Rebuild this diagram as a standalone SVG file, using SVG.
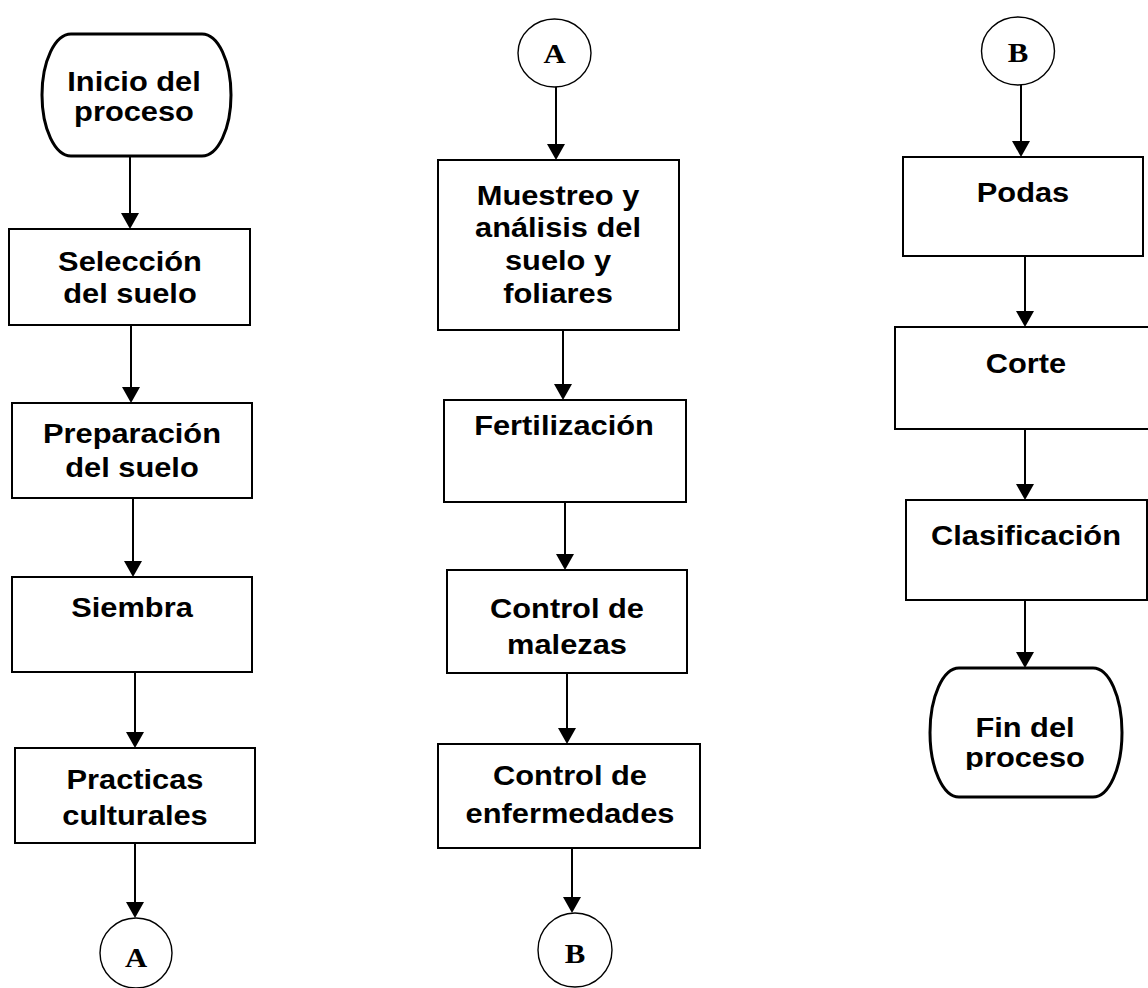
<svg xmlns="http://www.w3.org/2000/svg" width="1148" height="988" viewBox="0 0 1148 988">
<style>
.box{fill:#fff;stroke:#000;stroke-width:2}
.term{fill:#fff;stroke:#000;stroke-width:3}
.circ{fill:#fff;stroke:#000;stroke-width:1.4}
.t{font-family:"Liberation Sans",Arial,sans-serif;font-weight:bold;font-size:28px;fill:#000;text-anchor:middle}
.c{font-family:"Liberation Serif","Times New Roman",serif;font-weight:bold;font-size:28px;fill:#000;text-anchor:middle}
.ln{stroke:#000;stroke-width:2;fill:none;marker-end:url(#ah)}
</style>
<defs>
<marker id="ah" markerUnits="userSpaceOnUse" viewBox="0 0 16 18" markerWidth="16" markerHeight="18" refX="1" refY="9" orient="auto">
<path d="M0,0 L16,9 L0,18 z" fill="#000"/>
</marker>
<clipPath id="finclip"><rect x="930" y="668" width="192" height="102"/></clipPath>
</defs>
<rect width="1148" height="988" fill="#fff"/>
<g id="connectors">
<line class="ln" x1="130" y1="156" x2="130" y2="214"/>
<line class="ln" x1="131" y1="325" x2="131" y2="388"/>
<line class="ln" x1="133" y1="498" x2="133" y2="562"/>
<line class="ln" x1="135" y1="672" x2="135" y2="733"/>
<line class="ln" x1="135" y1="843" x2="135" y2="903"/>
<line class="ln" x1="556" y1="87" x2="556" y2="145"/>
<line class="ln" x1="563" y1="330" x2="563" y2="385"/>
<line class="ln" x1="565" y1="502" x2="565" y2="555"/>
<line class="ln" x1="567" y1="673" x2="567" y2="729"/>
<line class="ln" x1="572" y1="848" x2="572" y2="898"/>
<line class="ln" x1="1021" y1="85" x2="1021" y2="142"/>
<line class="ln" x1="1025" y1="256" x2="1025" y2="312"/>
<line class="ln" x1="1025" y1="429" x2="1025" y2="485"/>
<line class="ln" x1="1025" y1="600" x2="1025" y2="653"/>
</g>
<g id="inicio">
<rect class="term" x="42" y="34" width="189" height="122" rx="29" ry="61"/>
<text class="t" transform="translate(134,0) scale(1.1,1)"><tspan x="0" y="91">Inicio del</tspan><tspan x="0" y="121">proceso</tspan></text>
</g>
<g id="seleccion">
<rect class="box" x="9" y="229" width="241" height="96"/>
<text class="t" transform="translate(130,0) scale(1.1,1)"><tspan x="0" y="271">Selección</tspan><tspan x="0" y="303">del suelo</tspan></text>
</g>
<g id="preparacion">
<rect class="box" x="12" y="403" width="240" height="95"/>
<text class="t" transform="translate(132,0) scale(1.1,1)"><tspan x="0" y="443">Preparación</tspan><tspan x="0" y="477">del suelo</tspan></text>
</g>
<g id="siembra">
<rect class="box" x="12" y="577" width="240" height="95"/>
<text class="t" transform="translate(132,0) scale(1.1,1)"><tspan x="0" y="617">Siembra</tspan></text>
</g>
<g id="practicas">
<rect class="box" x="15" y="748" width="240" height="95"/>
<text class="t" transform="translate(135,0) scale(1.1,1)"><tspan x="0" y="789">Practicas</tspan><tspan x="0" y="825">culturales</tspan></text>
</g>
<g id="conA1">
<ellipse class="circ" cx="136" cy="953" rx="36" ry="35"/>
<text class="c" transform="translate(136,0) scale(1.1,1)"><tspan x="0" y="967">A</tspan></text>
</g>
<g id="conA2">
<ellipse class="circ" cx="554.5" cy="53" rx="36.5" ry="34"/>
<text class="c" transform="translate(554.5,0) scale(1.1,1)"><tspan x="0" y="63">A</tspan></text>
</g>
<g id="muestreo">
<rect class="box" x="438" y="160" width="241" height="170"/>
<text class="t" transform="translate(558,0) scale(1.1,1)"><tspan x="0" y="205">Muestreo y</tspan><tspan x="0" y="237">análisis del</tspan><tspan x="0" y="270">suelo y</tspan><tspan x="0" y="303">foliares</tspan></text>
</g>
<g id="fertilizacion">
<rect class="box" x="444" y="400" width="242" height="102"/>
<text class="t" transform="translate(564,0) scale(1.1,1)"><tspan x="0" y="435">Fertilización</tspan></text>
</g>
<g id="malezas">
<rect class="box" x="447" y="570" width="240" height="103"/>
<text class="t" transform="translate(567,0) scale(1.1,1)"><tspan x="0" y="618">Control de</tspan><tspan x="0" y="654">malezas</tspan></text>
</g>
<g id="enfermedades">
<rect class="box" x="438" y="744" width="262" height="104"/>
<text class="t" transform="translate(570,0) scale(1.1,1)"><tspan x="0" y="785">Control de</tspan><tspan x="0" y="823">enfermedades</tspan></text>
</g>
<g id="conB1">
<ellipse class="circ" cx="575" cy="950" rx="37" ry="37"/>
<text class="c" transform="translate(575,0) scale(1.1,1)"><tspan x="0" y="963">B</tspan></text>
</g>
<g id="conB2">
<ellipse class="circ" cx="1018" cy="51" rx="36.5" ry="34"/>
<text class="c" transform="translate(1018,0) scale(1.1,1)"><tspan x="0" y="62">B</tspan></text>
</g>
<g id="podas">
<rect class="box" x="903" y="157" width="240" height="99"/>
<text class="t" transform="translate(1023,0) scale(1.1,1)"><tspan x="0" y="202">Podas</tspan></text>
</g>
<g id="corte">
<rect class="box" x="895" y="327" width="265" height="102"/>
<text class="t" transform="translate(1026,0) scale(1.1,1)"><tspan x="0" y="373">Corte</tspan></text>
</g>
<g id="clasificacion">
<rect class="box" x="906" y="500" width="241" height="100"/>
<text class="t" transform="translate(1026,0) scale(1.1,1)"><tspan x="0" y="545">Clasificación</tspan></text>
</g>
<g id="fin">
<rect class="term" x="930" y="668" width="192" height="129" rx="29" ry="64.5"/>
<g clip-path="url(#finclip)">
<text class="t" transform="translate(1025,0) scale(1.1,1)"><tspan x="0" y="737">Fin del</tspan><tspan x="0" y="767">proceso</tspan></text>
</g>
</g>
</svg>
